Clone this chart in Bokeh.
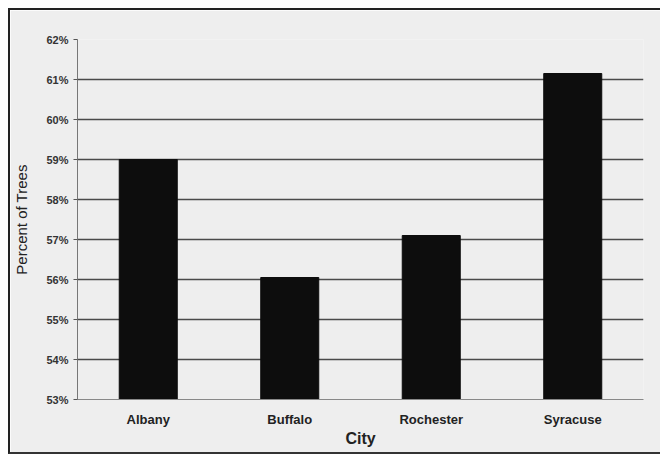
from bokeh.plotting import figure
from bokeh.models import Range1d, FactorRange, PrintfTickFormatter, FixedTicker
from bokeh.embed import file_html
from bokeh.resources import INLINE

cities = ["Albany", "Buffalo", "Rochester", "Syracuse"]
percent_trees = [59.0, 56.05, 57.1, 61.15]
y_ticks = [53, 54, 55, 56, 57, 58, 59, 60, 61, 62]

p = figure(x_range=FactorRange(*cities), y_range=Range1d(53, 62),
           width=652, height=446, output_backend="svg", toolbar_location=None,
           min_border_left=67, min_border_right=19, min_border_top=29, min_border_bottom=57)
p.styles = {"border-top": "2px solid #222", "border-left": "2px solid #222",
            "border-bottom": "2px solid #333", "margin-left": "8px", "margin-top": "8px"}
p.background_fill_color = "#eeeeee"
p.border_fill_color = "#eeeeee"
p.outline_line_color = None

p.vbar(x=cities, top=percent_trees, bottom=53, width=0.41, fill_color="#0d0d0d", line_color="#0d0d0d")

p.xgrid.grid_line_color = None
p.ygrid.grid_line_color = "#4a4a4a"
p.ygrid.grid_line_width = 1.5
p.yaxis.ticker = FixedTicker(ticks=y_ticks)
p.yaxis.formatter = PrintfTickFormatter(format="%d%%")
p.yaxis.axis_line_color = "#777777"
p.yaxis.major_tick_line_color = "#555555"
p.yaxis.major_tick_out = 4
p.yaxis.major_tick_in = 0
p.yaxis.minor_tick_line_color = None
p.yaxis.major_label_text_font = "Liberation Sans"
p.yaxis.major_label_text_font_style = "bold"
p.yaxis.major_label_text_font_size = "11px"
p.yaxis.major_label_text_color = "#333333"
p.yaxis.major_label_standoff = 5
p.yaxis.axis_label = "Percent of Trees"
p.yaxis.axis_label_text_font = "Liberation Sans"
p.yaxis.axis_label_text_font_style = "normal"
p.yaxis.axis_label_text_font_size = "15px"
p.yaxis.axis_label_text_color = "#222222"
p.yaxis.axis_label_standoff = 13

p.xaxis.axis_line_color = "#888888"
p.xaxis.major_tick_line_color = None
p.xaxis.minor_tick_line_color = None
p.xaxis.major_label_text_font = "Liberation Sans"
p.xaxis.major_label_text_font_style = "bold"
p.xaxis.major_label_text_font_size = "13px"
p.xaxis.major_label_text_color = "#222222"
p.xaxis.major_label_standoff = 6
p.xaxis.axis_label = "City"
p.xaxis.axis_label_text_font = "Liberation Sans"
p.xaxis.axis_label_text_font_style = "bold"
p.xaxis.axis_label_text_font_size = "16px"
p.xaxis.axis_label_text_color = "#222222"
p.xaxis.axis_label_standoff = 0

open("out.html", "w").write(file_html(p, INLINE))
